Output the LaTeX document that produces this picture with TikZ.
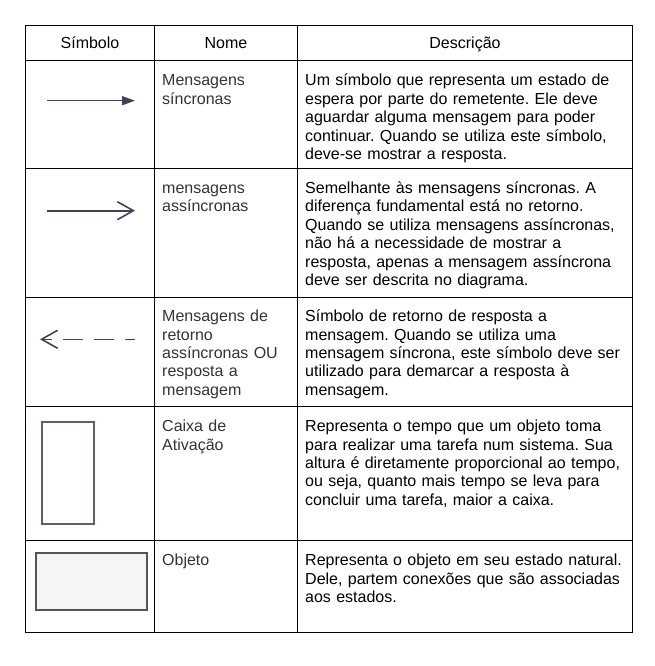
\documentclass[tikz,border=0pt]{standalone}
\usepackage{fontspec}
\setmainfont{Liberation Sans}
\usetikzlibrary{arrows.meta}
\frenchspacing
\definecolor{arrowc}{HTML}{3E4454}
\definecolor{boxc}{HTML}{5A6170}
\definecolor{namec}{HTML}{333333}
\definecolor{objfill}{HTML}{F5F5F5}
\definecolor{objline}{HTML}{555555}
\tikzset{
  grid/.style={line width=1pt, black},
  headtxt/.style={anchor=base, inner sep=0pt, font=\fontsize{16}{18.4}\selectfont, text=black},
  nametxt/.style={anchor=base west, inner sep=0pt, align=left, text width=135pt, font=\fontsize{16}{18.4}\selectfont, text=namec},
  desctxt/.style={anchor=base west, inner sep=0pt, align=left, text width=330pt, font=\fontsize{16}{18.4}\selectfont, text=black},
  msg/.style={line width=1.6pt, draw=arrowc},
}
\begin{document}
\begin{tikzpicture}[x=1pt,y=-1pt]
\useasboundingbox (0,0) rectangle (655,666);
% table grid
\draw[grid] (25.5,25.5) rectangle (632.5,632.5);
\foreach \yy in {60.5,168.5,297,406.5,540.5}{\draw[grid] (25.5,\yy) -- (632.5,\yy);}
\draw[grid] (154.5,25.5) -- (154.5,632.5);
\draw[grid] (297.5,25.5) -- (297.5,632.5);
% header
\node[headtxt] (h1) at (90,48.3) {Símbolo};
\node[headtxt] (h2) at (226,48.3) {Nome};
\node[headtxt] (h3) at (465,48.3) {Descrição};
% row 1
\coordinate (s1a) at (47,100.7);
\coordinate (s1b) at (135,100.7);
\draw[msg, -{Triangle[length=13pt,width=9pt]}] (s1a) -- (s1b);
\node[nametxt] (n1) at (162,86) {Mensagens\\síncronas};
\node[desctxt] (d1) at (305,86) {Um símbolo que representa um estado de\\espera por parte do remetente. Ele deve\\aguardar alguma mensagem para poder\\continuar. Quando se utiliza este símbolo,\\deve-se mostrar a resposta.};
% row 2
\coordinate (s2a) at (47,210.7);
\coordinate (s2b) at (135,210.7);
\draw[msg, -{Straight Barb[length=16pt,width=18pt]}] (s2a) -- (s2b);
\node[nametxt] (n2) at (162,193.5) {mensagens\\assíncronas};
\node[desctxt] (d2) at (305,193.5) {Semelhante às mensagens síncronas. A\\diferença fundamental está no retorno.\\Quando se utiliza mensagens assíncronas,\\não há a necessidade de mostrar a\\resposta, apenas a mensagem assíncrona\\deve ser descrita no diagrama.};
% row 3
\coordinate (s3a) at (135,339.3);
\coordinate (s3b) at (40,339.3);
\draw[msg, dash pattern=on 20pt off 11pt, dash phase=10pt, -{Straight Barb[length=16pt,width=18pt]}] (s3a) -- (s3b);
\node[nametxt] (n3) at (162,321.7) {Mensagens de\\retorno\\assíncronas OU\\resposta a\\mensagem};
\node[desctxt] (d3) at (305,321.7) {Símbolo de retorno de resposta a\\mensagem. Quando se utiliza uma\\mensagem síncrona, este símbolo deve ser\\utilizado para demarcar a resposta à\\mensagem.};
% row 4
\node[draw=boxc, line width=2pt, fill=white, minimum width=52pt, minimum height=102pt, inner sep=0pt] (act) at (68,473) {};
\node[nametxt] (n4) at (162,431.7) {Caixa de\\Ativação};
\node[desctxt] (d4) at (305,431.7) {Representa o tempo que um objeto toma\\para realizar uma tarefa num sistema. Sua\\altura é diretamente proporcional ao tempo,\\ou seja, quanto mais tempo se leva para\\concluir uma tarefa, maior a caixa.};
% row 5
\node[draw=objline, line width=1.3pt, fill=objfill, minimum width=111pt, minimum height=57pt, inner sep=0pt] (obj) at (91.5,581.5) {};
\node[nametxt] (n5) at (162,565.7) {Objeto};
\node[desctxt] (d5) at (305,565.7) {Representa o objeto em seu estado natural.\\Dele, partem conexões que são associadas\\aos estados.};
\end{tikzpicture}
\end{document}
